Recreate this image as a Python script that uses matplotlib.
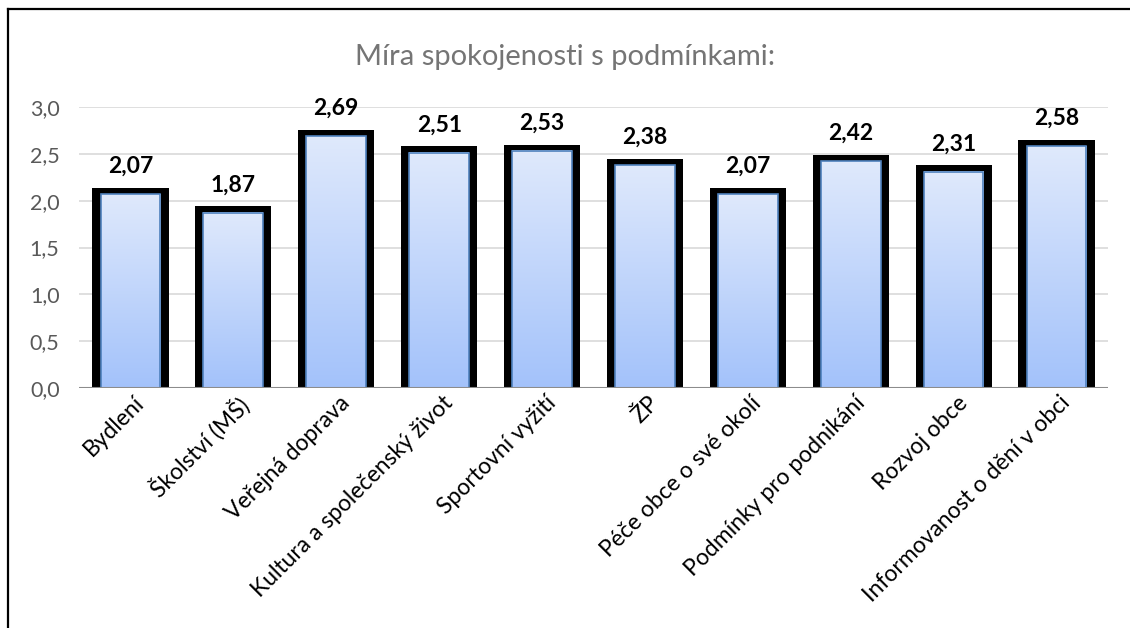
import numpy as np
import matplotlib
matplotlib.use("Agg")
import matplotlib.pyplot as plt
import matplotlib.transforms as mtransforms
from matplotlib.lines import Line2D
from matplotlib.patches import Rectangle
from matplotlib.colors import LinearSegmentedColormap
from matplotlib.ticker import FuncFormatter

# ── Data ─────────────────────────────────────────────────────────────
categories = ["Bydlení", "Školství (MŠ)", "Veřejná doprava",
              "Kultura a společenský život", "Sportovní vyžití", "ŽP",
              "Péče obce o své okolí", "Podmínky pro podnikání",
              "Rozvoj obce", "Informovanost o dění v obci"]
values = [2.07, 1.87, 2.69, 2.51, 2.53, 2.38, 2.07, 2.42, 2.31, 2.58]
yticks = [0.0, 0.5, 1.0, 1.5, 2.0, 2.5, 3.0]
title = "Míra spokojenosti s podmínkami:"

plt.rcParams["font.family"] = ["Lato", "DejaVu Sans"]

GRID = "#d9d9d9"
TXT = "#595959"
grad = LinearSegmentedColormap.from_list("barfill", ["#a3c2fa", "#dfe9fc"])

fig = plt.figure(figsize=(11.3, 6.28), dpi=100, facecolor="white")
ax = fig.add_axes([0.0699, 0.382, 0.9106, 0.4475])

x = np.arange(len(categories))
inner_w = 0.58
outer_w = 0.74
top_ext = 0.07

for xi, v in zip(x, values):
    # thick black frame behind the bar
    ax.add_patch(Rectangle((xi - outer_w / 2, 0), outer_w, v + top_ext,
                           facecolor="black", edgecolor="none", zorder=2))
    # gradient fill
    g = np.linspace(0, 1, 256).reshape(-1, 1)
    ax.imshow(g, cmap=grad, origin="lower", aspect="auto", zorder=3,
              extent=[xi - inner_w / 2, xi + inner_w / 2, 0, v])
    ax.add_patch(Rectangle((xi - inner_w / 2, 0), inner_w, v,
                           facecolor="none", edgecolor="#4f81bd", lw=1.2, zorder=4))
    ax.annotate(f"{v:.2f}".replace(".", ","), (xi, v), xytext=(0, 20),
                textcoords="offset points", ha="center", va="center",
                fontsize=16.5, fontweight="bold", color="black")

ax.set_xlim(-0.5, len(categories) - 0.5)
ax.set_ylim(0, 3.0)
ax.set_yticks(yticks)
ax.yaxis.set_major_formatter(FuncFormatter(lambda v, p: f"{v:.1f}".replace(".", ",")))
ax.grid(axis="y", color=GRID, lw=1.2, zorder=0)
ax.set_axisbelow(True)
ax.axhline(0, color="#8c8c8c", lw=1.5, zorder=5)
for s in ax.spines.values():
    s.set_visible(False)
ax.tick_params(axis="y", length=0, pad=14, labelsize=15.5, labelcolor=TXT)
ax.tick_params(axis="x", length=0, pad=3)
ax.set_xticks(x)
ax.set_xticklabels(categories, rotation=45, ha="right", rotation_mode="anchor",
                   fontsize=16.5, color="black")
shift = mtransforms.ScaledTranslation(3 / 100, 0, fig.dpi_scale_trans)
for lab in ax.get_xticklabels():
    lab.set_transform(lab.get_transform() + shift)

fig.text(0.5, 0.909, title, ha="center", va="center", fontsize=21, color="#757575")

# frame lines (top and left only, image is cropped)
fig.add_artist(Line2D([8 / 1130, 1], [1 - 9 / 628] * 2, color="black", lw=1.6,
                      transform=fig.transFigure))
fig.add_artist(Line2D([8 / 1130] * 2, [0, 1 - 9 / 628], color="black", lw=1.6,
                      transform=fig.transFigure))

fig.savefig("out.png", dpi=100, facecolor="white")
